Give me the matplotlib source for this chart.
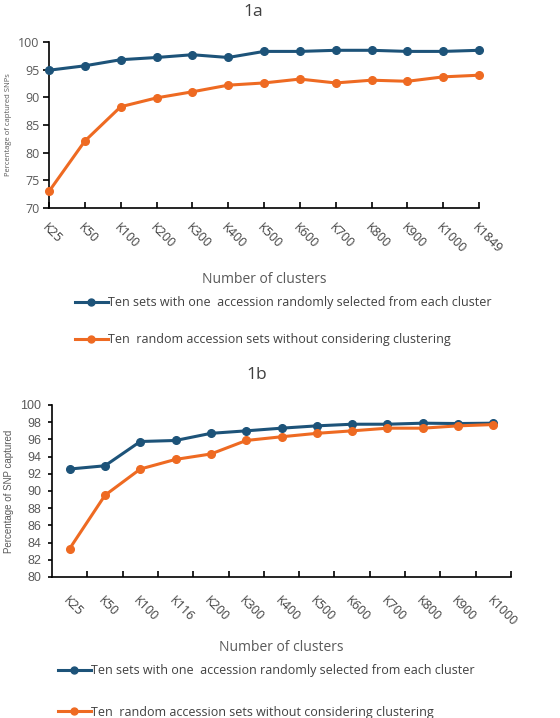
import matplotlib
matplotlib.use('Agg')
import matplotlib.pyplot as plt
from matplotlib.lines import Line2D

plt.rcParams['font.family'] = ['Open Sans', 'DejaVu Sans']

# --- data: 1a ---
labels_a = ['K25', 'K50', 'K100', 'K200', 'K300', 'K400', 'K500', 'K600',
            'K700', 'K800', 'K900', 'K1000', 'K1849']
clustered_a = [94.9, 95.7, 96.8, 97.2, 97.7, 97.2, 98.3, 98.3, 98.5, 98.5, 98.3, 98.3, 98.5]
random_a = [73.0, 82.1, 88.3, 89.9, 91.0, 92.2, 92.6, 93.3, 92.6, 93.1, 92.9, 93.7, 94.0]

# --- data: 1b ---
labels_b = ['K25', 'K50', 'K100', 'K116', 'K200', 'K300', 'K400', 'K500',
            'K600', 'K700', 'K800', 'K900', 'K1000']
clustered_b = [92.55, 92.93, 95.75, 95.87, 96.7, 96.99, 97.3, 97.57, 97.76, 97.76, 97.88, 97.84, 97.88]
random_b = [83.3, 89.5, 92.55, 93.67, 94.3, 95.87, 96.3, 96.7, 96.99, 97.3, 97.3, 97.57, 97.72]

leg_labels = ['Ten sets with one  accession randomly selected from each cluster',
              'Ten  random accession sets without considering clustering']

BLUE = '#1d5379'
ORANGE = '#ee6a22'
GREY = '#595959'
DARK = '#404040'

fig = plt.figure(figsize=(5.6, 7.18), dpi=100)


def style_axes(ax):
    for s in ['top', 'right']:
        ax.spines[s].set_visible(False)
    for s in ['left', 'bottom']:
        ax.spines[s].set_linewidth(1.2)
        ax.spines[s].set_color('black')


# ---------- 1a ----------
ax1 = fig.add_axes([0.0875, 0.7103, 0.768, 0.2312])
xa = list(range(len(labels_a)))
ax1.plot(xa, clustered_a, color=BLUE, lw=2.2, marker='o', ms=5.5, clip_on=False, zorder=3)
ax1.plot(xa, random_a, color=ORANGE, lw=2.2, marker='o', ms=5.5, clip_on=False, zorder=3)
ax1.set_xlim(0, len(labels_a) - 1)
ax1.set_ylim(70, 100)
ax1.set_yticks(range(70, 101, 5))
ax1.set_xticks(xa)
ax1.set_xticklabels(labels_a, rotation=-45, ha='left', va='top', rotation_mode='anchor')
ax1.tick_params(axis='x', direction='in', length=4, width=1.2, pad=9, labelsize=9, labelcolor=DARK)
ax1.tick_params(axis='y', direction='out', length=4, width=1.2, pad=3, labelsize=9, labelcolor=GREY)
style_axes(ax1)
ax1.set_ylabel('Percentage of captured SNPs', fontsize=5.5, color=GREY, labelpad=4)
ax1.set_xlabel('Number of clusters', fontsize=10, color=GREY, labelpad=12)
fig.text(0.452, 0.983, '1a', ha='center', va='center', fontsize=12.5, color=DARK)

# ---------- 1b ----------
ax2 = fig.add_axes([0.0929, 0.1964, 0.8196, 0.2396])
xb = list(range(len(labels_b)))
ax2.plot(xb, clustered_b, color=BLUE, lw=2.2, marker='o', ms=5.5, zorder=3)
ax2.plot(xb, random_b, color=ORANGE, lw=2.2, marker='o', ms=5.5, zorder=4)
ax2.set_xlim(-0.5, len(labels_b) - 0.5)
ax2.set_ylim(80, 100)
ax2.set_yticks(range(80, 101, 2))
ax2.set_xticks(xb)
ax2.set_xticklabels(labels_b, rotation=-45, ha='left', va='top', rotation_mode='anchor')
ax2.set_xticks([i + 0.5 for i in xb], minor=True)
ax2.tick_params(axis='x', which='major', length=0, pad=12, labelsize=9, labelcolor=DARK)
ax2.tick_params(axis='x', which='minor', direction='in', length=4, width=1.2)
ax2.tick_params(axis='y', direction='out', length=3, width=1.2, pad=5, labelsize=9, labelcolor=GREY)
for t in ax2.get_yticklabels():
    t.set_fontfamily('Liberation Sans')
style_axes(ax2)
ax2.set_ylabel('Percentage of SNP captured', fontsize=7, color=GREY, labelpad=4,
               fontfamily='Liberation Sans')
ax2.set_xlabel('Number of clusters', fontsize=10, color=GREY, labelpad=8)
fig.text(0.459, 0.478, '1b', ha='center', va='center', fontsize=12.5, color=DARK)

# ---------- legends ----------
handles = [Line2D([], [], color=BLUE, lw=2.2, marker='o', ms=5),
           Line2D([], [], color=ORANGE, lw=2.2, marker='o', ms=5)]
fig.legend(handles, leg_labels, loc='upper left', bbox_to_anchor=(0.125, 0.5947),
           frameon=False, fontsize=9, labelcolor=DARK, handlelength=2.6,
           handletextpad=0.05, labelspacing=1.95, borderaxespad=0)
fig.legend(handles, leg_labels, loc='upper left', bbox_to_anchor=(0.095, 0.0815),
           frameon=False, fontsize=9, labelcolor=DARK, handlelength=2.6,
           handletextpad=0.05, labelspacing=2.25, borderaxespad=0)

fig.savefig('out.png', dpi=100)
